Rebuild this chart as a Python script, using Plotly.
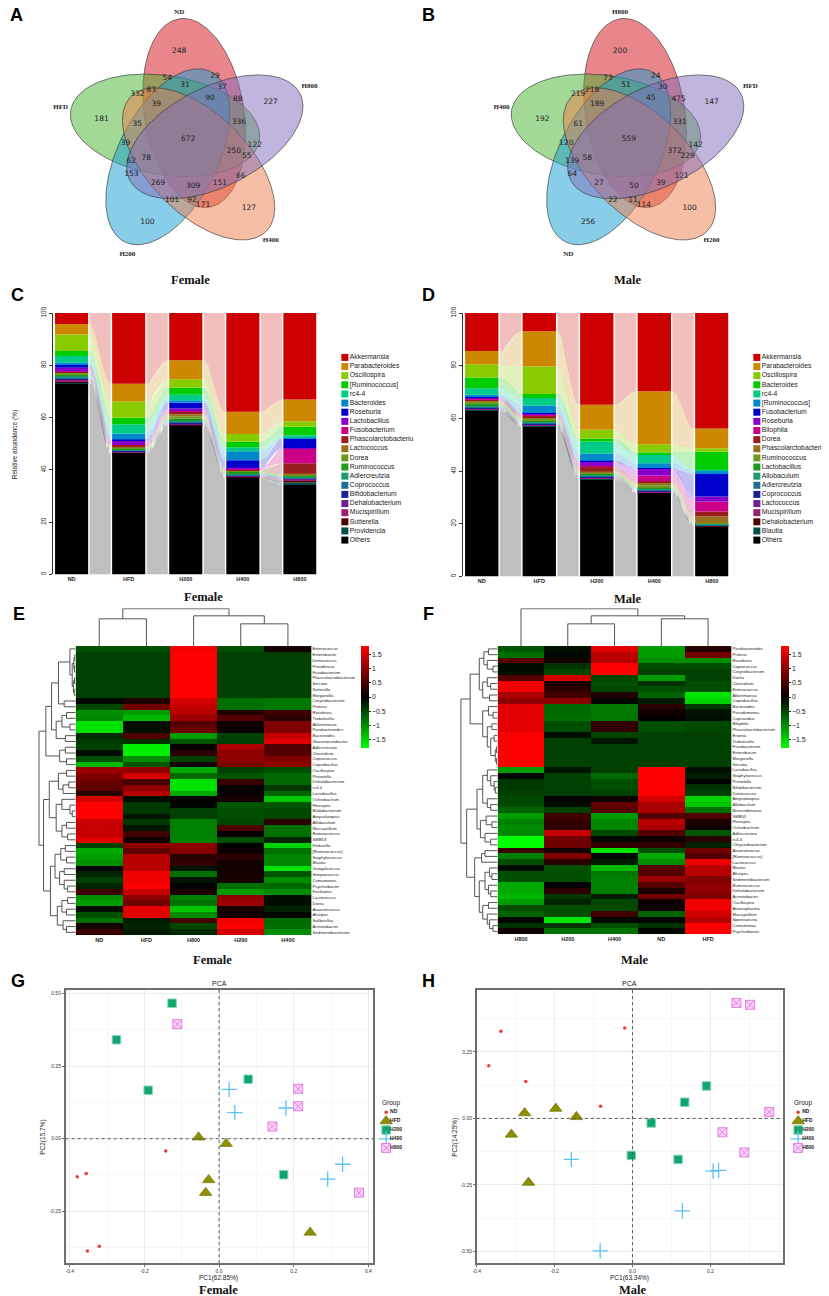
import numpy as np
import plotly.graph_objects as go

W, H = 829, 1296

# ---------------- A / B : Venn diagrams ----------------
venn_a_sets = ["ND", "HFD", "H200", "H400", "H800"]
venn_b_sets = ["H800", "H400", "ND", "H200", "HFD"]
venn_a_counts = [248, 54, 29, 31, 37, 90, 88, 227, 332, 83, 39, 181, 35, 336, 672, 39,
                 250, 122, 55, 62, 78, 153, 66, 269, 309, 151, 101, 92, 171, 127, 100]
venn_b_counts = [200, 73, 24, 51, 30, 45, 475, 147, 219, 218, 189, 192, 61, 331, 559, 120,
                 372, 142, 229, 139, 58, 64, 121, 27, 50, 39, 22, 11, 114, 100, 256]

# ---------------- C / D : relative abundance ----------------
groups = ["ND", "HFD", "H200", "H400", "H800"]
female_taxa = ["Akkermansia", "Parabacteroides", "Oscillospira", "[Ruminococcus]", "rc4-4",
               "Bacteroides", "Roseburia", "Lactobacillus", "Fusobacterium",
               "Phascolarctobacteriu", "Lactococcus", "Dorea", "Ruminococcus", "Adlercreutzia",
               "Coprococcus", "Bifidobacterium", "Dehalobacterium", "Mucispirillum",
               "Sutterella", "Providencia", "Others"]
female_abund = [
    [4.2, 27.0, 18.0, 37.7, 33.1],
    [4.0, 6.8, 7.3, 8.6, 8.4],
    [6.3, 6.2, 3.3, 2.9, 2.0],
    [1.9, 2.5, 2.6, 2.1, 3.2],
    [2.5, 3.6, 2.1, 1.6, 1.0],
    [1.0, 2.3, 1.0, 3.4, 0.3],
    [1.0, 0.3, 2.2, 2.8, 3.6],
    [1.3, 1.7, 1.0, 0.4, 0.3],
    [0.2, 0.1, 0.2, 0.3, 5.5],
    [0.2, 0.4, 1.0, 0.3, 4.0],
    [0.3, 0.5, 0.8, 0.3, 0.4],
    [0.6, 0.5, 0.9, 0.4, 0.4],
    [0.6, 0.4, 0.8, 0.5, 0.5],
    [0.4, 0.2, 0.5, 0.4, 0.3],
    [0.5, 0.2, 0.3, 0.3, 0.3],
    [0.3, 0.1, 0.2, 0.2, 0.2],
    [0.3, 0.2, 0.3, 0.2, 0.2],
    [0.7, 0.2, 0.3, 0.3, 0.3],
    [0.3, 0.2, 0.2, 0.2, 0.8],
    [0.2, 0.1, 0.1, 0.2, 1.0],
    [73.2, 46.5, 56.9, 36.9, 34.2],
]
male_taxa = ["Akkermansia", "Parabacteroides", "Oscillospira", "Bacteroides", "rc4-4",
             "[Ruminococcus]", "Fusobacterium", "Roseburia", "Bilophila", "Dorea",
             "Phascolarctobacteri", "Ruminococcus", "Lactobacillus", "Allobaculum",
             "Adlercreutzia", "Coprococcus", "Lactococcus", "Mucispirillum",
             "Dehalobacterium", "Blautia", "Others"]
male_abund = [
    [14.4, 6.9, 34.8, 29.7, 43.8],
    [5.0, 13.4, 9.5, 20.1, 7.5],
    [5.1, 10.4, 3.4, 3.1, 1.3],
    [4.0, 1.5, 1.1, 1.0, 6.9],
    [2.5, 2.9, 4.5, 3.1, 0.4],
    [0.9, 2.8, 2.8, 1.8, 1.2],
    [0.3, 0.2, 0.3, 0.2, 8.5],
    [0.4, 0.6, 1.6, 2.7, 1.9],
    [0.3, 0.4, 0.3, 2.1, 3.8],
    [0.3, 0.6, 1.8, 0.4, 1.8],
    [0.5, 0.4, 0.4, 1.2, 2.5],
    [0.8, 0.7, 0.5, 0.9, 0.3],
    [0.5, 0.5, 0.4, 0.5, 0.2],
    [0.5, 0.4, 0.3, 0.3, 0.2],
    [0.4, 0.3, 0.3, 0.3, 0.2],
    [0.3, 0.3, 0.3, 0.2, 0.1],
    [0.2, 0.2, 0.2, 0.2, 0.1],
    [0.2, 0.2, 0.3, 0.2, 0.1],
    [0.2, 0.2, 0.2, 0.2, 0.1],
    [0.1, 0.2, 0.2, 0.1, 0.1],
    [63.1, 56.9, 36.8, 31.7, 19.0],
]

# ---------------- E / F : heatmaps ----------------
e_cols = ["ND", "HFD", "H800", "H200", "H400"]
e_rows = ["Enterococcus", "Enterobacter", "Deinococcus", "Providencia", "Fusobacterium",
          "Phascolarctobacterium", "Serratia", "Sutterella", "Morganella", "Corynebacterium",
          "Proteus", "Roseburia", "Trabulsiella", "Akkermansia", "Parabacteroides",
          "Bacteroides", "Gluconacetobacter", "Adlercreutzia", "Clostridium", "Coprococcus",
          "Coprobacillus", "Oscillospira", "Prevotella", "Dehalobacterium", "rc4-4",
          "Lactobacillus", "Ochrobactrum", "Flexispira", "Bifidobacterium", "Amycolatopsis",
          "Allobaculum", "Mucispirillum", "Ruminococcus", "SMB53", "Klebsiella",
          "[Ruminococcus]", "Staphylococcus", "Blautia", "Jeotgalicoccus", "Streptococcus",
          "Comamonas", "Psychrobacter", "Facklamia", "Lactococcus", "Dorea", "Anaerotruncus",
          "Alistipes", "Solibacillus", "Acinetobacter", "Sedimentibacterium"]
e_z = [
    [-0.55, -0.55, 1.75, -0.55, 0.15],
    [-0.45, -0.45, 1.8, -0.45, -0.45],
    [-0.45, -0.45, 1.8, -0.45, -0.45],
    [-0.45, -0.45, 1.8, -0.45, -0.45],
    [-0.45, -0.45, 1.8, -0.45, -0.45],
    [-0.45, -0.45, 1.8, -0.45, -0.45],
    [-0.45, -0.45, 1.8, -0.45, -0.45],
    [-0.45, -0.45, 1.8, -0.45, -0.45],
    [-0.45, -0.45, 1.8, -0.45, -0.45],
    [-0.05, 0.25, 1.5, -0.8, -0.85],
    [-0.5, 0.8, 1.4, -0.8, -0.85],
    [-1.0, -1.1, 1.3, 0.25, 0.45],
    [-0.95, -1.3, 1.1, 0.6, 0.3],
    [-1.6, -0.1, 0.6, 0.1, 0.9],
    [-1.6, -0.1, 0.75, 0.05, 0.9],
    [-0.3, 0.55, -1.1, -0.45, 1.4],
    [-0.4, -0.35, -0.6, -0.45, 1.6],
    [-0.45, -1.7, 0.05, 1.2, 0.55],
    [-0.1, -1.7, 0.3, 1.0, 0.6],
    [-0.55, -1.0, -0.45, 1.0, 0.9],
    [-1.3, -0.6, 0.1, 0.85, 1.0],
    [1.1, 1.0, -1.2, -0.45, -0.55],
    [0.9, 1.5, -0.75, -0.6, -0.75],
    [0.75, 0.5, -1.6, 0.4, -0.75],
    [0.65, 1.0, -1.6, 0.05, -0.4],
    [0.3, 1.3, -1.2, 0.05, -0.7],
    [1.5, -0.1, 0.05, 0.15, -1.4],
    [1.8, -0.4, -0.05, -0.6, -0.6],
    [1.8, -0.4, -0.45, -0.55, -0.5],
    [1.8, -0.15, -0.45, -0.55, -0.5],
    [1.4, -0.4, -0.9, -0.5, 0.3],
    [1.4, -0.15, -0.9, 0.55, -0.8],
    [1.4, 0.45, -0.9, 0.05, -0.8],
    [1.6, 0.1, -0.9, -0.55, -0.25],
    [-0.45, 1.0, 1.0, 0.0, -1.5],
    [-1.2, 0.7, 0.95, 0.1, -0.8],
    [-1.1, 1.3, 0.3, 0.3, -0.95],
    [-1.0, 1.3, 0.35, 0.1, -0.95],
    [0.0, 1.3, -0.15, 0.15, -1.6],
    [-0.25, 1.7, -0.8, 0.15, -0.6],
    [-0.45, 1.7, -0.15, 0.15, -1.0],
    [-0.25, 1.8, 0.0, -0.8, -0.75],
    [0.45, 1.4, 0.2, -1.1, -1.0],
    [-1.0, 1.0, -0.9, 1.0, -0.1],
    [-1.1, 0.8, -0.8, 1.1, -0.1],
    [-0.1, 1.6, -1.4, 0.2, -0.25],
    [-0.55, 1.6, -1.0, 0.1, -0.05],
    [-0.8, -0.2, 0.5, 1.7, -0.75],
    [0.15, -0.25, -0.5, 1.8, -0.8],
    [0.4, -0.2, -0.3, 1.5, -1.0],
]
f_cols = ["H800", "H200", "H400", "ND", "HFD"]
f_rows = ["Parabacteroides", "Proteus", "Roseburia", "Coprococcus", "Corynebacterium", "Dorea",
          "Clostridium", "Enterococcus", "Akkermansia", "Coprobacillus", "Bacteroides",
          "Pseudomonas", "Cupriavidus", "Bilophila", "Phascolarctobacterium", "Erwinia",
          "Trabulsiella", "Fusobacterium", "Enterobacter", "Morganella", "Serratia",
          "Lactobacillus", "Staphylococcus", "Prevotella", "Bifidobacterium", "Deinococcus",
          "Amycolatopsis", "Allobaculum", "Brevundimonas", "SMB53", "Flexispira",
          "Ochrobactrum", "Adlercreutzia", "rc4-4", "Chryseobacterium", "Anaerotruncus",
          "[Ruminococcus]", "Lactococcus", "Blautia", "Alistipes", "Sedimentibacterium",
          "Ruminococcus", "Dehalobacterium", "Acinetobacter", "Oscillospira", "Anaeroplasma",
          "Mucispirillum", "Sporosarcina", "Comamonas", "Psychrobacter"]
f_z = [
    [-0.6, -0.1, 1.6, -1.1, 0.25],
    [-0.8, -0.05, 1.3, -1.1, 0.8],
    [0.6, 0.15, 1.3, -1.0, -1.0],
    [-0.1, -0.35, 1.8, -0.55, -0.55],
    [-0.1, -0.5, 1.8, -0.45, -0.45],
    [0.6, 1.5, -0.5, -1.1, -0.45],
    [1.7, 0.2, -0.55, -0.35, -0.55],
    [1.7, 0.3, -0.5, -0.55, -0.55],
    [1.2, 0.45, 0.25, -0.7, -1.6],
    [1.0, 1.0, -0.05, -0.2, -1.5],
    [1.6, -0.75, -0.85, 0.3, -0.4],
    [1.6, -0.75, -0.85, 0.15, -0.15],
    [1.6, -0.8, -0.85, 0.0, -0.1],
    [1.6, -0.55, 0.35, -0.55, -0.5],
    [1.6, -0.55, 0.35, -0.55, -0.5],
    [1.8, -0.1, -0.5, -0.45, -0.45],
    [1.8, -0.45, -0.15, -0.45, -0.45],
    [1.8, -0.45, -0.45, -0.45, -0.45],
    [1.8, -0.45, -0.45, -0.45, -0.45],
    [1.8, -0.45, -0.45, -0.45, -0.45],
    [1.8, -0.45, -0.45, -0.45, -0.45],
    [-1.1, -0.15, -0.45, 1.8, -0.1],
    [-0.05, -0.45, -0.75, 1.8, -0.2],
    [-0.4, -0.45, -0.55, 1.8, 0.0],
    [-0.4, -0.45, -0.55, 1.8, -0.35],
    [-0.45, -0.45, -0.45, 1.8, -0.45],
    [-0.5, 0.05, 0.1, 1.5, -1.5],
    [-0.5, -0.1, 0.7, 1.2, -1.4],
    [-0.7, -0.45, 0.6, 1.2, -0.8],
    [-1.1, 0.45, -1.1, 0.6, 0.55],
    [-0.9, 0.35, -0.95, 1.3, 0.2],
    [-1.0, 0.35, -0.95, 1.2, 0.1],
    [-0.95, 1.4, -0.5, 0.6, -0.6],
    [-1.8, 0.8, -0.05, 0.1, 0.3],
    [-1.8, 0.8, 0.35, 0.35, -0.25],
    [0.4, 0.15, -1.6, -0.55, 0.8],
    [-0.9, 0.9, -0.05, -1.2, 0.6],
    [-0.55, 0.3, -0.2, -1.0, 1.7],
    [-0.1, -0.55, -1.3, 0.6, 1.3],
    [-0.55, -0.55, -0.85, 0.6, 1.3],
    [-0.55, -0.55, -0.9, 1.1, 0.9],
    [-1.2, 0.0, -0.9, 0.6, 1.0],
    [-1.2, 0.3, -0.9, 0.2, 1.0],
    [-1.3, -0.4, -0.2, 0.8, 0.9],
    [-1.1, -0.25, -0.5, 0.1, 1.7],
    [-0.55, -0.55, -0.5, 0.1, 1.7],
    [-0.7, -0.55, 0.45, -0.7, 1.5],
    [-0.05, -1.6, -0.05, -0.05, 1.3],
    [-0.35, -0.35, -0.55, -0.35, 1.8],
    [0.1, -0.8, -0.8, -0.05, 1.8],
]

# cluster trees: [height, left, right], integers are leaf positions
e_col_tree = [4.0, [2.92, 0, 1], [3.24, 2, [2.38, 3, 4]]]
f_col_tree = [4.0, 0, [3.24, [2.38, 1, 2], [2.92, 3, 4]]]
e_row_tree = [3.2,
              [2.6, [2.1, [1.5, [0.5, 0, [0.3, [0.15, [0.08, 1, 2], [0.1, 3, 4]],
                                          [0.2, [0.1, 5, 6], [0.12, 7, 8]]]], [1.0, 9, 10]],
                          [1.7, [1.2, [0.8, 11, 12], [0.5, 13, 14]], [0.9, 15, 16]]],
               [1.4, [0.9, 17, 18], [0.8, 19, 20]]],
              [2.8, [2.3, [1.5, [0.8, 21, 22], [1.1, [0.6, 23, 24], 25]],
                     [1.7, [1.2, 26, [0.5, 27, [0.3, 28, 29]]], [1.2, [0.8, 30, 31], [0.7, 32, 33]]]],
               [2.2, [1.8, [1.3, [0.9, 34, 35], [0.8, 36, 37]], [1.4, [1.0, 38, 39], [1.0, 40, [0.7, 41, 42]]]],
                [1.6, [1.2, [0.7, 43, 44], [0.8, 45, 46]], [1.1, 47, [0.8, 48, 49]]]]]]
f_row_tree = [3.2,
              [2.4, [1.6, [1.2, [0.8, 0, 1], [0.9, 2, [0.4, 3, 4]]], [1.3, [0.9, 5, [0.6, 6, 7]], [0.7, 8, 9]]],
               [1.3, [0.8, 10, [0.4, 11, 12]],
                [0.9, [0.5, 13, 14], [0.6, [0.3, 15, 16], [0.2, [0.1, 17, 18], [0.1, 19, 20]]]]]],
              [2.7, [1.8, [1.3, [0.9, 21, [0.6, 22, [0.3, 23, [0.2, 24, 25]]]], [0.9, 26, [0.6, 27, 28]]],
                     [1.5, [1.0, 29, [0.5, 30, 31]], [1.1, 32, [0.6, 33, 34]]]],
               [2.0, [1.4, [1.1, 35, 36], 37],
                [1.6, [1.1, [0.7, 38, [0.5, 39, 40]], [0.8, 41, [0.6, 42, 43]]],
                 [1.3, [0.8, 44, 45], [0.9, 46, [0.7, 47, [0.4, 48, 49]]]]]]]]

# ---------------- G / H : PCA ----------------
pca_groups = ["ND", "HFD", "H200", "H400", "H800"]
g_pc1 = [[-0.380, -0.356, -0.353, -0.321, -0.143], [-0.055, 0.019, -0.028, -0.036, 0.244],
         [-0.126, -0.275, -0.190, 0.078, 0.173], [0.027, 0.042, 0.179, 0.331, 0.291],
         [-0.112, 0.212, 0.212, 0.143, 0.375]]
g_pc2 = [[-0.131, -0.120, -0.387, -0.371, -0.042], [0.005, -0.017, -0.142, -0.186, -0.323],
         [0.467, 0.341, 0.167, 0.205, -0.124], [0.170, 0.090, 0.106, -0.088, -0.139],
         [0.395, 0.172, 0.112, 0.042, -0.186]]
h_pc1 = [[-0.338, -0.369, -0.274, -0.020, -0.082], [-0.277, -0.197, -0.144, -0.311, -0.267],
         [0.190, 0.134, 0.048, -0.003, 0.117], [-0.157, -0.083, 0.128, 0.207, 0.221],
         [0.267, 0.302, 0.351, 0.231, 0.287]]
h_pc2 = [[0.328, 0.198, 0.139, 0.340, 0.046], [0.020, 0.037, 0.006, -0.060, -0.241],
         [0.122, 0.061, -0.017, -0.139, -0.154], [-0.154, -0.498, -0.347, -0.198, -0.195],
         [0.434, 0.427, 0.024, -0.052, -0.128]]

# ---------------- styling ----------------
PAL = ["#CC0000", "#CC8800", "#88CC00", "#00CC00", "#00CC88", "#0088CC", "#0000CC", "#8800CC",
       "#CC0088", "#991F1F", "#99701F", "#70991F", "#1F991F", "#1F9970", "#1F7099", "#1F1F99",
       "#701F99", "#991F70", "#4D0000", "#004D4D", "#000000"]
VENN_COLORS = [(209, 13, 25), (71, 179, 47), (19, 157, 209), (235, 125, 75), (129, 107, 185)]
# label offsets from the Venn centre (pixels)
REGION_DX = [-9, -21, 27, -3, 34, 22, 50, 83, -51, -37, -32, -87, -51, 51, 0, -63, 46, 67, 59,
             -57, -42, -57, 53, -30, 5, 32, -16, 4, 15, 61, -41]
REGION_DY = [-89, -61, -63, -54, -52, -41, -40, -37, -45, -49, -35, -20, -15, -17, 0, 4, 12, 6,
             17, 22, 19, 35, 37, 44, 47, 44, 61, 61, 66, 69, 83]
SET_DX = [-9, -128, -61, 83, 122]
SET_DY = [-128, -32, 116, 102, -53]
PCA_STYLE = [
    dict(symbol="circle", size=3.5, color="#F03C32", line=dict(width=0)),
    dict(symbol="triangle-up", size=11, color="#8E8E00", line=dict(width=0.6, color="#6C6C00")),
    dict(symbol="square", size=8.5, color="#10A56D", line=dict(width=1, color="#86D6B6")),
    dict(symbol="cross-thin-open", size=11, color="#5BC4F2", line=dict(width=1.3, color="#5BC4F2")),
    dict(symbol="square-x", size=9, color="#FAD2FA", line=dict(width=1, color="#E47EE4")),
]
HEAT_SCALE = [[0, "#00FF00"], [0.5, "#000000"], [1, "#FF0000"]]

fig = go.Figure()
layout_axes = {}
annotations = []
shapes = []


def hex_rgba(h, a):
    h = h.lstrip("#")
    return f"rgba({int(h[0:2], 16)},{int(h[2:4], 16)},{int(h[4:6], 16)},{a})"


def axis_pair(n, xdom, ydom, xr, yr, xa=None, ya=None):
    s = "" if n == 1 else str(n)
    base = dict(showgrid=False, zeroline=False, showticklabels=False, ticks="", showline=False)
    xd = dict(base, domain=[max(0, xdom[0] / W), min(1, xdom[1] / W)], range=xr, anchor="y" + s)
    yd = dict(base, domain=[max(0, 1 - ydom[1] / H), min(1, 1 - ydom[0] / H)], range=yr,
              anchor="x" + s)
    if xa:
        xd.update(xa)
    if ya:
        yd.update(ya)
    layout_axes["xaxis" + s] = xd
    layout_axes["yaxis" + s] = yd
    return "x" + s, "y" + s


def note(text, px, py, size, family="Liberation Sans", angle=0, xanchor="center", color="#111"):
    annotations.append(dict(text=text, x=px / W, y=1 - py / H, xref="paper", yref="paper",
                            showarrow=False, textangle=angle, xanchor=xanchor, yanchor="middle",
                            font=dict(size=size, family=family, color=color)))


def draw_venn(n, x0, sets, counts):
    xr, yr = axis_pair(n, (x0, x0 + 370), (0, 270), [0, 370], [270, 0])
    cx, cy = 185, 133
    t = np.linspace(0, 2 * np.pi, 240)
    for k in range(5):
        phi = np.radians(77 + 72 * k)
        psi = np.radians(99 + 72 * k)
        ex, ey = cx + 27 * np.cos(phi), cy - 27 * np.sin(phi)
        X = 96 * np.cos(t) * np.cos(psi) - 50 * np.sin(t) * np.sin(psi)
        Y = 96 * np.cos(t) * np.sin(psi) + 50 * np.sin(t) * np.cos(psi)
        r, g, b = VENN_COLORS[k]
        fig.add_trace(go.Scatter(x=ex + X, y=ey - Y, mode="lines", fill="toself",
                                 fillcolor=f"rgba({r},{g},{b},0.5)",
                                 line=dict(color="rgba(60,60,60,0.85)", width=0.8),
                                 xaxis=xr, yaxis=yr, hoverinfo="skip"))
    fig.add_trace(go.Scatter(x=[cx + d for d in REGION_DX], y=[cy + d for d in REGION_DY],
                             mode="text", text=[str(c) for c in counts],
                             textfont=dict(size=7.5, family="DejaVu Sans", color="#222"),
                             xaxis=xr, yaxis=yr, cliponaxis=False, hoverinfo="skip"))
    fig.add_trace(go.Scatter(x=[cx + d for d in SET_DX], y=[cy + d for d in SET_DY],
                             mode="text", text=[f"<b>{s}</b>" for s in sets],
                             textfont=dict(size=7, family="Liberation Serif", color="#222"),
                             xaxis=xr, yaxis=yr, cliponaxis=False, hoverinfo="skip"))


def draw_bars(n, xdom, ydom, abund):
    xr, yr = axis_pair(
        n, xdom, ydom, [-0.33, 4.29], [0, 100],
        xa=dict(showticklabels=True, tickvals=list(range(5)),
                ticktext=[f"<b>{g}</b>" for g in groups], tickfont=dict(size=5.5, color="#222")),
        ya=dict(showticklabels=True, showline=True, linecolor="#333", linewidth=0.8,
                ticks="outside", ticklen=3, tickcolor="#333", tickvals=[0, 20, 40, 60, 80, 100],
                tickangle=-90, tickfont=dict(size=6.5, color="#222")))
    arr = np.array(abund, float)
    lo = np.zeros(5)
    bounds = []
    for i in range(len(arr) - 1, -1, -1):
        hi = lo + arr[i]
        bounds.append((i, lo.copy(), hi.copy()))
        lo = hi
    half, gap = 0.29, 0.025
    tt = np.linspace(0, 1, 40)
    s = (1 - np.cos(np.pi * tt)) / 2
    for i, l, h in bounds:
        xs_all, ys_all = [], []
        for g in range(4):
            xa_, xb_ = g + half + gap, g + 1 - half - gap
            xs = xa_ + (xb_ - xa_) * tt
            top = h[g] + (h[g + 1] - h[g]) * s
            bot = l[g] + (l[g + 1] - l[g]) * s
            xs_all += list(xs) + list(xs[::-1]) + [None]
            ys_all += list(top) + list(bot[::-1]) + [None]
        fig.add_trace(go.Scatter(x=xs_all, y=ys_all, mode="lines", fill="toself",
                                 fillcolor=hex_rgba(PAL[i], 0.25), line=dict(width=0),
                                 xaxis=xr, yaxis=yr, hoverinfo="skip"))
    for i, l, h in bounds:
        fig.add_trace(go.Bar(x=list(range(5)), y=arr[i], base=l, width=0.58,
                             marker=dict(color=PAL[i], line=dict(width=0)),
                             xaxis=xr, yaxis=yr))


def draw_bar_legend(n, xdom, ydom, taxa):
    xr, yr = axis_pair(n, xdom, ydom, [0, xdom[1] - xdom[0]], [len(taxa) - 0.5, -0.5])
    idx = list(range(len(taxa)))
    fig.add_trace(go.Scatter(x=[4.5] * len(taxa), y=idx, mode="markers",
                             marker=dict(symbol="square", size=7, color=PAL[:len(taxa)],
                                         line=dict(width=0)),
                             xaxis=xr, yaxis=yr, cliponaxis=False, hoverinfo="skip"))
    fig.add_trace(go.Scatter(x=[9.5] * len(taxa), y=idx, mode="text", text=taxa,
                             textposition="middle right",
                             textfont=dict(size=6.8, color="#222"),
                             xaxis=xr, yaxis=yr, cliponaxis=False, hoverinfo="skip"))


def tree_lines(node, xs, ys):
    if isinstance(node, int):
        return node, 0.0
    h, left, right = node
    pl, hl = tree_lines(left, xs, ys)
    pr, hr = tree_lines(right, xs, ys)
    xs += [pl, pl, pr, pr, None]
    ys += [hl, h, h, hr, None]
    return (pl + pr) / 2, h


def draw_heatmap(nh, hx, hy, rows, cols, z, col_tree, row_tree, cb_x):
    nrow = len(rows)
    xr, yr = axis_pair(
        nh, hx, hy, [-0.5, 4.5], [nrow - 0.5, -0.5],
        xa=dict(showticklabels=True, tickvals=list(range(5)),
                ticktext=[f"<b>{c}</b>" for c in cols], tickfont=dict(size=5.5, color="#222")),
        ya=dict(showticklabels=True, side="right", tickvals=list(range(nrow)), ticktext=rows,
                tickfont=dict(size=4.2, color="#222")))
    fig.add_trace(go.Heatmap(
        z=z, x=list(range(5)), y=list(range(nrow)), colorscale=HEAT_SCALE, zmin=-1.8, zmax=1.8,
        xaxis=xr, yaxis=yr,
        colorbar=dict(x=cb_x / W, xanchor="left", y=1 - hy[0] / H, yanchor="top", len=102,
                      lenmode="pixels", thickness=8, xpad=0, ypad=0, outlinewidth=0,
                      tickvals=[-1.5, -1, -0.5, 0, 0.5, 1, 1.5],
                      ticktext=["\u22121.5", "\u22121", "\u22120.5", "0", "0.5", "1", "1.5"],
                      ticks="outside", ticklen=2, tickcolor="#222",
                      tickfont=dict(size=7, color="#222"))))
    # column dendrogram
    cx_, cy_ = axis_pair(nh + 1, hx, (hy[0] - 38, hy[0]), [-0.5, 4.5], [0, 4.05])
    xs, ys = [], []
    tree_lines(col_tree, xs, ys)
    fig.add_trace(go.Scatter(x=xs, y=ys, mode="lines", line=dict(color="#555", width=1),
                             xaxis=cx_, yaxis=cy_, cliponaxis=False, hoverinfo="skip"))
    # row dendrogram
    rx_, ry_ = axis_pair(nh + 2, (hx[0] - 38, hx[0]), hy, [3.3, 0], [nrow - 0.5, -0.5])
    xs, ys = [], []
    tree_lines(row_tree, xs, ys)
    fig.add_trace(go.Scatter(x=ys, y=xs, mode="lines", line=dict(color="#555", width=1),
                             xaxis=rx_, yaxis=ry_, cliponaxis=False, hoverinfo="skip"))


def pca_axis(tickvals, ticktext, minor_dtick):
    return dict(showgrid=True, gridcolor="#EBEBEB", gridwidth=1, showline=True, mirror=True,
                linecolor="#6E6E6E", linewidth=1.5, ticks="outside", ticklen=2,
                tickcolor="#6E6E6E", showticklabels=True, tickvals=tickvals, ticktext=ticktext,
                tickfont=dict(size=5, color="#333"),
                minor=dict(showgrid=True, gridcolor="#F6F6F6", dtick=minor_dtick, tick0=0))


def draw_pca(n, xdom, ydom, xrange_, yrange_, xt, yt, pc1, pc2, leg_x):
    xr, yr = axis_pair(n, xdom, ydom, xrange_, yrange_,
                       xa=pca_axis(xt, [f"{v:.1f}" for v in xt], 0.1),
                       ya=pca_axis(yt, [f"{v:.2f}" for v in yt], 0.125))
    shapes.append(dict(type="line", xref=xr, yref=yr + " domain", x0=0, x1=0, y0=0, y1=1,
                       line=dict(color="#555", width=1, dash="dot")))
    shapes.append(dict(type="line", xref=xr + " domain", yref=yr, x0=0, x1=1, y0=0, y1=0,
                       line=dict(color="#555", width=1, dash="dot")))
    for k in range(5):
        fig.add_trace(go.Scatter(x=pc1[k], y=pc2[k], mode="markers", marker=PCA_STYLE[k],
                                 xaxis=xr, yaxis=yr, hoverinfo="skip"))
    lx, ly = axis_pair(n + 1, (leg_x, leg_x + 36), (1107.5, 1152.5), [0, 36], [4.5, -0.5])
    for k in range(5):
        fig.add_trace(go.Scatter(x=[8], y=[k], mode="markers", marker=PCA_STYLE[k],
                                 xaxis=lx, yaxis=ly, cliponaxis=False, hoverinfo="skip"))
    fig.add_trace(go.Scatter(x=[12] * 5, y=list(range(5)), mode="text",
                             text=[f"<b>{g}</b>" for g in pca_groups],
                             textposition="middle right", textfont=dict(size=5, color="#222"),
                             xaxis=lx, yaxis=ly, cliponaxis=False, hoverinfo="skip"))
    note("Group", leg_x + 2, 1103, 6.5, xanchor="left", color="#222")


# A, B
draw_venn(1, 0, venn_a_sets, venn_a_counts)
draw_venn(2, 443, venn_b_sets, venn_b_counts)
# C, D
draw_bars(3, (49, 314), (308, 571), female_abund)
draw_bar_legend(4, (338, 415), (348, 541), female_taxa)
draw_bars(5, (461, 728), (308, 573), male_abund)
draw_bar_legend(6, (752, 829), (348, 541), male_taxa)
note("Relative abundance (%)", 11, 440, 6.5, angle=-90, color="#222")
# E, F
draw_heatmap(7, (72, 309), (643, 934), e_rows, e_cols, e_z, e_col_tree, e_row_tree, 359)
draw_heatmap(10, (496, 731), (643, 933), f_rows, f_cols, f_z, f_col_tree, f_row_tree, 781)
# G, H
draw_pca(13, (62, 371), (989, 1264), [-0.411, 0.413], [-0.429, 0.513],
         [-0.4, -0.2, 0.0, 0.2, 0.4], [-0.25, 0.0, 0.25, 0.5], g_pc1, g_pc2, 376)
draw_pca(15, (475, 783), (989, 1264), [-0.4, 0.387], [-0.544, 0.483],
         [-0.4, -0.2, 0.0, 0.2], [-0.5, -0.25, 0.0, 0.25], h_pc1, h_pc2, 790)
note("PCA", 217, 983, 7, color="#222")
note("PCA", 629, 983, 7, color="#222")
note("PC1(62.85%)", 216, 1278.5, 6.5, color="#222")
note("PC1(63.34%)", 629, 1278.5, 6.5, color="#222")
note("PC2(15.7%)", 39, 1137, 6.5, angle=-90, color="#222")
note("PC2(14.25%)", 453, 1137, 6.5, angle=-90, color="#222")

# panel letters and captions
for letter, px, py in [("A", 13, 8), ("B", 427, 8), ("C", 14, 290), ("D", 427, 290),
                       ("E", 15, 611), ("F", 427, 611), ("G", 14, 980), ("H", 427, 980)]:
    note(f"<b>{letter}</b>", px, py, 18, color="#000")
for cap, px, py in [("Female", 187, 275), ("Male", 627, 275), ("Female", 200, 594),
                    ("Male", 627, 596), ("Female", 210, 959), ("Male", 634, 959),
                    ("Female", 216, 1291), ("Male", 632, 1291)]:
    note(f"<b>{cap}</b>", px, py, 12.5, family="Liberation Serif", color="#111")

fig.update_layout(width=W, height=H, margin=dict(l=0, r=0, t=0, b=0),
                  plot_bgcolor="white", paper_bgcolor="white", barmode="overlay",
                  showlegend=False, font=dict(family="Liberation Sans", color="#111"),
                  annotations=annotations, shapes=shapes, **layout_axes)
fig.write_html("out.html", config={"displayModeBar": False},
               post_script="document.body.style.margin='0px';")
